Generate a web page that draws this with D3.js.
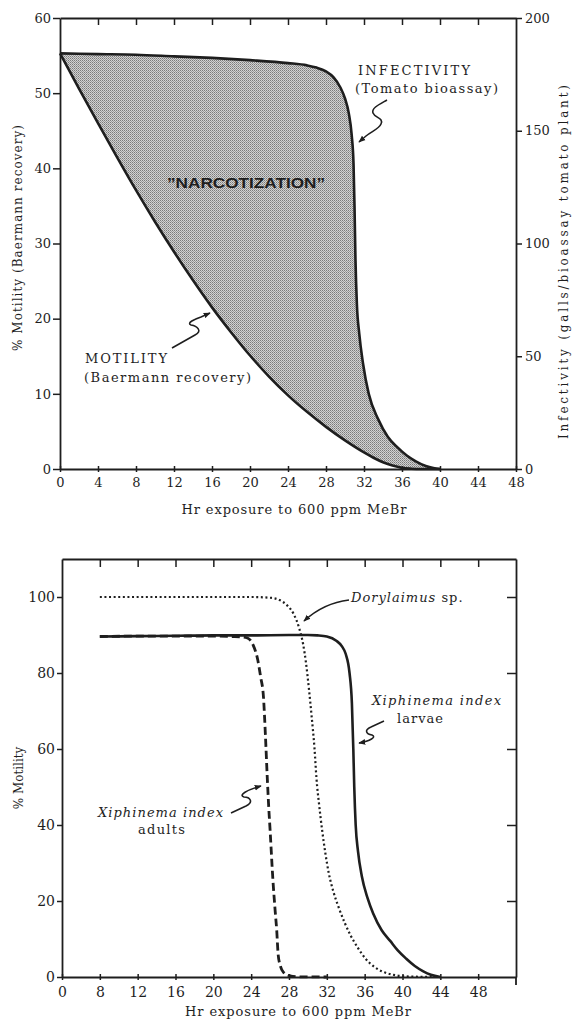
<!DOCTYPE html>
<html><head><meta charset="utf-8">
<script src="https://cdn.jsdelivr.net/npm/d3@7"></script>
<style>
body{margin:0;background:#fff;}
svg{display:block;}
text{font-family:"DejaVu Serif",serif;fill:#1e1e1e;}
</style></head><body>
<svg id="chart" width="574" height="1022"></svg>
<script>
// ---------- TOP CHART DATA ----------
const motilityHours = [0,2,4,6,8,10,12,14,16,18,20,22,24,26,28,30,32,33,34,35,36,37,38,40];
const motilityPct   = [55.3,50.6,46.0,41.5,37.1,32.9,28.9,25.1,21.5,18.2,15.1,12.3,9.8,7.6,5.6,3.8,2.2,1.5,0.9,0.45,0.15,0.04,0,0];
const infectHours = [0,4,8,12,16,20,24,26,27,28,28.8,29.5,30,30.4,30.7,30.9,31.0,31.1,31.25,31.5,31.9,32.5,33.5,34.5,35.5,36.5,37.5,38.5,39.3,40];
const infectGalls = [184.3,184,183.7,183,182.3,181.3,180,179,178,176.3,173.7,169.3,164.3,157.7,148.3,135,116.7,93.3,73.3,60,46.7,33.3,22,14.3,9.7,6,3.3,1.3,0.4,0];
const topXTicks = [0,4,8,12,16,20,24,28,32,36,40,44,48];
const topYTicks = [0,10,20,30,40,50,60];
const topRightTicks = [0,50,100,150,200];

// ---------- BOTTOM CHART DATA ----------
const larvaeHours = [8,12,16,20,24,28,30,31,32,33,33.6,34,34.4,34.65,34.8,34.9,35.05,35.3,35.7,36.3,36.9,37.8,38.7,39.5,40.4,41.3,42.2,43,44];
const larvaeMot   = [89.6,89.7,89.8,89.9,89.9,90,90,89.9,89.6,88.5,87,85,80,72,60,50,40,33,26.5,20.8,16.7,12.3,9.5,7.0,4.8,2.9,1.5,0.6,0];
const dorylHours = [8,12,16,20,24,26,27,27.8,28.5,29.05,29.5,29.8,30.1,30.4,30.7,30.9,31.2,31.5,31.85,32.2,32.7,33.3,33.9,34.5,35.3,36.1,37,38,39,40,42,44];
const dorylMot   = [100,100,100,100,100,99.8,99.2,97.8,95.5,92,87.5,82.6,76,68.4,60,52.4,45,38.7,32.5,27.4,22.4,18,14.2,11,7.6,4.8,2.7,1.3,0.6,0.2,0.05,0];
const adultHours = [8,12,16,20,22,23,23.6,24.2,24.7,25.0,25.3,25.5,25.7,25.85,26.0,26.3,26.55,26.7,26.85,27.1,27.4,28.1,29,32];
const adultMot   = [89.6,89.7,89.7,89.7,89.6,89.5,89.2,87.4,83.4,79,73.7,64,52.6,45,38.7,25.5,17,12.4,6,2.8,1.3,0.3,0.05,0];
const botXTicks = [4,8,12,16,20,24,28,32,36,40,44,48];
const botXLabels = ["0","8","12","16","20","24","28","32","36","40","44","48"];
const botYTicks = [0,20,40,60,80,100];

const svg = d3.select("#chart");
const INK = "#1e1e1e";

// stipple pattern
const defs = svg.append("defs");
const pat = defs.append("pattern").attr("id","stip").attr("patternUnits","userSpaceOnUse")
  .attr("width",2).attr("height",2);
pat.append("rect").attr("width",2).attr("height",2).attr("fill","#d2d2d2");
pat.append("rect").attr("width",1).attr("height",1).attr("fill","#7a7a7a");
pat.append("rect").attr("x",1).attr("y",1).attr("width",1).attr("height",1).attr("fill","#9a9a9a");
defs.append("marker").attr("id","arr").attr("viewBox","0 0 10 10").attr("refX",9).attr("refY",5)
  .attr("markerWidth",7).attr("markerHeight",7).attr("orient","auto").attr("markerUnits","userSpaceOnUse")
  .append("path").attr("d","M0,1 L10,5 L0,9 Z").attr("fill",INK);

function styleAxis(g){
  g.selectAll("path.domain").attr("stroke",INK).attr("stroke-width",1.8);
  g.selectAll(".tick line").attr("stroke",INK).attr("stroke-width",1.5);
  g.selectAll("text").attr("fill",INK).style("font-family","DejaVu Serif, serif");
}

// ================= TOP CHART =================
const xT = d3.scaleLinear().domain([0,48]).range([60,516]);
const yT = d3.scaleLinear().domain([0,60]).range([469,18]);
const yR = d3.scaleLinear().domain([0,200]).range([469,18]);

const motPts = motilityHours.map((h,i)=>[h,motilityPct[i]]);
const infPts = infectHours.map((h,i)=>[h,infectGalls[i]]);

const lineMot = d3.line().x(d=>xT(d[0])).y(d=>yT(d[1])).curve(d3.curveMonotoneX);
const lineInf = d3.line().x(d=>xT(d[0])).y(d=>yR(d[1])).curve(d3.curveMonotoneX);
const areaInf = d3.area().x(d=>xT(d[0])).y0(yR(0)).y1(d=>yR(d[1])).curve(d3.curveMonotoneX);

defs.append("clipPath").attr("id","aboveMot").append("path")
  .attr("d", lineMot(motPts) + `L${xT(48)},${yT(0)}L${xT(48)},${yT(60)}L${xT(0)},${yT(60)}Z`);

svg.append("path").attr("d",areaInf(infPts)).attr("fill","url(#stip)").attr("clip-path","url(#aboveMot)");
svg.append("path").attr("d",lineInf(infPts)).attr("fill","none").attr("stroke",INK).attr("stroke-width",2.6);
svg.append("path").attr("d",lineMot(motPts)).attr("fill","none").attr("stroke",INK).attr("stroke-width",2.6);

// axes
const gL = svg.append("g").attr("transform",`translate(${xT(0)},0)`)
  .call(d3.axisLeft(yT).tickValues(topYTicks).tickSize(7).tickSizeOuter(0).tickPadding(2));
gL.selectAll("text").attr("font-size",13);
styleAxis(gL);
const gR = svg.append("g").attr("transform",`translate(${xT(48)},0)`)
  .call(d3.axisRight(yR).tickValues(topRightTicks).tickSize(6).tickSizeOuter(0).tickPadding(3));
gR.selectAll("text").attr("font-size",13);
styleAxis(gR);
const gTop = svg.append("g").attr("transform",`translate(0,${yT(60)})`)
  .call(d3.axisTop(xT).tickValues(topXTicks.slice(1,-1)).tickSize(-7).tickSizeOuter(0).tickFormat(""));
styleAxis(gTop);
const gB = svg.append("g").attr("transform",`translate(0,${yT(0)})`)
  .call(d3.axisBottom(xT).tickValues(topXTicks).tickSize(3).tickSizeOuter(0).tickPadding(6));
gB.selectAll(".tick line").attr("y1",-3);
gB.selectAll("text").attr("font-size",13);
styleAxis(gB);

svg.append("text").attr("x",294).attr("y",514).attr("text-anchor","middle").attr("font-size",13)
  .attr("textLength",225).attr("lengthAdjust","spacing").text("Hr exposure to 600 ppm MeBr");
svg.append("text").attr("transform","translate(22,238) rotate(-90)").attr("text-anchor","middle")
  .attr("font-size",12).attr("textLength",226).attr("lengthAdjust","spacing").text("% Motility (Baermann recovery)");
svg.append("text").attr("transform","translate(568,262) rotate(-90)").attr("text-anchor","middle")
  .attr("font-size",12).attr("textLength",354).attr("lengthAdjust","spacing").text("Infectivity (galls/bioassay tomato plant)");

svg.append("text").attr("x",167).attr("y",188).attr("font-size",15).attr("font-weight","bold")
  .style("font-family","Liberation Sans, Arial, sans-serif").attr("textLength",158).attr("lengthAdjust","spacingAndGlyphs")
  .text("\u201dNARCOTIZATION\u201d");
svg.append("text").attr("x",358).attr("y",75).attr("font-size",13).attr("textLength",112).attr("lengthAdjust","spacing").text("INFECTIVITY");
svg.append("text").attr("x",355).attr("y",93).attr("font-size",13).attr("textLength",143).attr("lengthAdjust","spacing").text("(Tomato bioassay)");
svg.append("text").attr("x",85).attr("y",363).attr("font-size",13).attr("textLength",82).attr("lengthAdjust","spacing").text("MOTILITY");
svg.append("text").attr("x",84).attr("y",382).attr("font-size",13).attr("textLength",167).attr("lengthAdjust","spacing").text("(Baermann recovery)");

function squiggle(d){
  svg.append("path").attr("d",d).attr("fill","none").attr("stroke",INK).attr("stroke-width",1.6)
    .attr("marker-end","url(#arr)");
}
squiggle("M387,100 C380,104 371,108 373,113 C375,118 384,118 381,124 C379,129 372,131 366,136 L359,142");
squiggle("M172,348 L195,335 C203,331 197,326 191,325 C186,323 195,319 201,317 L210,313");

// ================= BOTTOM CHART =================
const xB = d3.scaleLinear().domain([4,52]).range([62,516]);
const yB = d3.scaleLinear().domain([0,110]).range([977,559]);
const lineB = d3.line().x(d=>xB(d[0])).y(d=>yB(d[1])).curve(d3.curveMonotoneX);

svg.append("path").attr("d",lineB(larvaeHours.map((h,i)=>[h,larvaeMot[i]])))
  .attr("fill","none").attr("stroke",INK).attr("stroke-width",2.6);
svg.append("path").attr("d",lineB(adultHours.map((h,i)=>[h,adultMot[i]])))
  .attr("fill","none").attr("stroke",INK).attr("stroke-width",2.8).attr("stroke-dasharray","8,4");
svg.append("path").attr("d",lineB(dorylHours.map((h,i)=>[h,dorylMot[i]])))
  .attr("fill","none").attr("stroke",INK).attr("stroke-width",2.2).attr("stroke-dasharray","2,2.6");

const bL = svg.append("g").attr("transform",`translate(${xB(4)},0)`)
  .call(d3.axisLeft(yB).tickValues(botYTicks).tickSize(5).tickSizeOuter(0).tickPadding(2));
bL.selectAll("text").attr("font-size",14);
styleAxis(bL);
const bR = svg.append("g").attr("transform",`translate(${xB(52)},0)`)
  .call(d3.axisRight(yB).tickValues(botYTicks.slice(1)).tickSize(-9).tickSizeOuter(0).tickFormat(""));
styleAxis(bR);
svg.append("line").attr("x1",xB(52)).attr("x2",xB(52)).attr("y1",yB(0)).attr("y2",yB(0)+8)
  .attr("stroke",INK).attr("stroke-width",1.8);
const bTop = svg.append("g").attr("transform",`translate(0,${yB(110)})`)
  .call(d3.axisTop(xB).tickValues(botXTicks.slice(1)).tickSize(-8).tickSizeOuter(0).tickFormat(""));
styleAxis(bTop);
const bB = svg.append("g").attr("transform",`translate(0,${yB(0)})`)
  .call(d3.axisBottom(xB).tickValues(botXTicks).tickSize(3).tickSizeOuter(0).tickPadding(7)
    .tickFormat((d,i)=>botXLabels[i]));
bB.selectAll(".tick line").attr("y1",-3);
bB.selectAll("text").attr("font-size",14);
styleAxis(bB);

svg.append("text").attr("x",298).attr("y",1016).attr("text-anchor","middle").attr("font-size",13)
  .attr("textLength",226).attr("lengthAdjust","spacing").text("Hr exposure to 600 ppm MeBr");
svg.append("text").attr("transform","translate(23,778) rotate(-90)").attr("text-anchor","middle")
  .attr("font-size",12).text("% Motility");

const t1 = svg.append("text").attr("x",351).attr("y",602).attr("font-size",13).attr("letter-spacing",1);
t1.append("tspan").attr("font-style","italic").text("Dorylaimus");
t1.append("tspan").text(" sp.");
svg.append("text").attr("x",372).attr("y",705).attr("font-size",13).attr("font-style","italic")
  .attr("textLength",129).attr("lengthAdjust","spacing").text("Xiphinema index");
svg.append("text").attr("x",397).attr("y",723).attr("font-size",13).attr("textLength",46).attr("lengthAdjust","spacing").text("larvae");
svg.append("text").attr("x",98).attr("y",817).attr("font-size",13).attr("font-style","italic")
  .attr("textLength",125).attr("lengthAdjust","spacing").text("Xiphinema index");
svg.append("text").attr("x",138).attr("y",834).attr("font-size",13).attr("textLength",47).attr("lengthAdjust","spacing").text("adults");

squiggle("M349,600 C332,602 316,610 304,621");
squiggle("M384,721 L371,727 C364,730 366,734 372,735 C377,737 370,741 359,743");
squiggle("M231,813 L246,806 C254,802 250,797 244,797 C238,795 247,790 261,786");
</script>
</body></html>
